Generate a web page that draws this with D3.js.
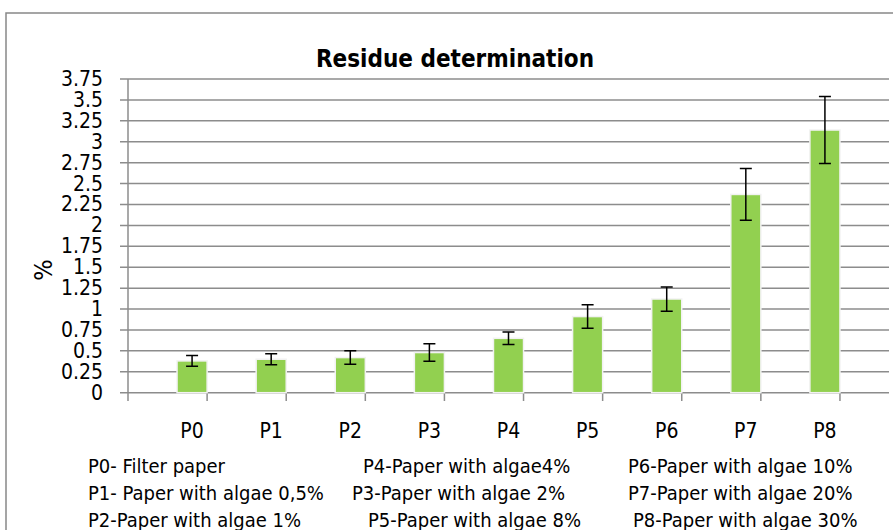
<!DOCTYPE html>
<html>
<head>
<meta charset="utf-8">
<script src="https://d3js.org/d3.v7.min.js"></script>
<style>
  body { margin: 0; background: #fff; }
  text { font-family: "Liberation Sans Narrow", "DejaVu Sans Condensed", sans-serif; }
</style>
</head>
<body>
<svg width="893" height="530"></svg>
<script>
const categories = ["P0", "P1", "P2", "P3", "P4", "P5", "P6", "P7", "P8"]
const values = [0.38, 0.40, 0.42, 0.48, 0.65, 0.91, 1.12, 2.37, 3.14]
const errors = [0.065, 0.065, 0.08, 0.105, 0.075, 0.14, 0.145, 0.31, 0.4]
const yTicks = [0, 0.25, 0.5, 0.75, 1, 1.25, 1.5, 1.75, 2, 2.25, 2.5, 2.75, 3, 3.25, 3.5, 3.75]
const legendCols = [
  ["P0- Filter paper", "P1- Paper with algae 0,5%", "P2-Paper with algae 1%"],
  ["P4-Paper with algae4%", "P3-Paper with algae 2%", "P5-Paper with algae 8%"],
  ["P6-Paper with algae 10%", "P7-Paper with algae 20%", "P8-Paper with algae 30%"]
]

const svg = d3.select("svg")

svg.append("rect")
  .attr("x", 6).attr("y", 13).attr("width", 900).attr("height", 540)
  .attr("fill", "#fff").attr("stroke", "#888").attr("stroke-width", 1.5)

const x = d3.scaleBand().domain(categories).range([128, 889]).padding(0.62)
const y = d3.scaleLinear().domain([0, 3.75]).range([392.7, 79])

svg.append("g")
  .selectAll("line")
  .data(yTicks)
  .enter()
  .append("line")
  .attr("x1", 120).attr("x2", 889)
  .attr("y1", d => y(d)).attr("y2", d => y(d))
  .attr("stroke", "#8c8c8c").attr("stroke-width", 1.5)

svg.append("line")
  .attr("x1", 128).attr("x2", 128).attr("y1", 79).attr("y2", 392.7)
  .attr("stroke", "#8c8c8c").attr("stroke-width", 1.5)

const step = x.step()
svg.append("g")
  .selectAll("line")
  .data(d3.range(categories.length + 1))
  .enter()
  .append("line")
  .attr("x1", i => 128 + i * step).attr("x2", i => 128 + i * step)
  .attr("y1", 392.7).attr("y2", 401)
  .attr("stroke", "#8c8c8c").attr("stroke-width", 1.5)

svg.append("g")
  .selectAll("text")
  .data(yTicks)
  .enter()
  .append("text")
  .attr("x", 103).attr("y", d => y(d) + 7)
  .attr("text-anchor", "end")
  .attr("font-size", 21)
  .text(d => d)

svg.append("text")
  .attr("transform", "translate(52,270) rotate(-90)")
  .attr("text-anchor", "middle")
  .attr("font-size", 25)
  .text("%")

const groups = svg.selectAll("g.bar")
  .data(categories)
  .enter()
  .append("g")
  .attr("class", "bar")

groups.append("rect")
  .attr("x", d => x(d))
  .attr("width", x.bandwidth())
  .attr("y", (d, i) => y(values[i]))
  .attr("height", (d, i) => y(0) - y(values[i]))
  .attr("fill", "#92d050")
  .attr("stroke", "#f2f2f2").attr("stroke-width", 1.5)

const cx = d => x(d) + x.bandwidth() / 2
groups.append("path")
  .attr("d", (d, i) => {
    const t = y(values[i] + errors[i]), b = y(values[i] - errors[i]), c = cx(d)
    return `M${c},${t}V${b}M${c - 6},${t}H${c + 6}M${c - 6},${b}H${c + 6}`
  })
  .attr("stroke", "#000").attr("stroke-width", 1.5).attr("fill", "none")

groups.append("text")
  .attr("x", cx).attr("y", 438)
  .attr("text-anchor", "middle")
  .attr("font-size", 21)
  .text(d => d)

svg.append("text")
  .attr("x", 455).attr("y", 67)
  .attr("text-anchor", "middle")
  .attr("font-family", "Liberation Sans, Arial, sans-serif")
  .attr("font-weight", "bold")
  .attr("font-size", 24)
  .text("Residue determination")

const colX = [[88, 88, 88], [363, 352, 368], [628, 628, 633]]
legendCols.forEach((col, c) => {
  svg.append("g")
    .selectAll("text")
    .data(col)
    .enter()
    .append("text")
    .attr("x", (d, r) => colX[c][r])
    .attr("y", (d, r) => 473 + r * 27)
    .attr("font-size", 20)
    .text(d => d)
})
</script>
</body>
</html>
